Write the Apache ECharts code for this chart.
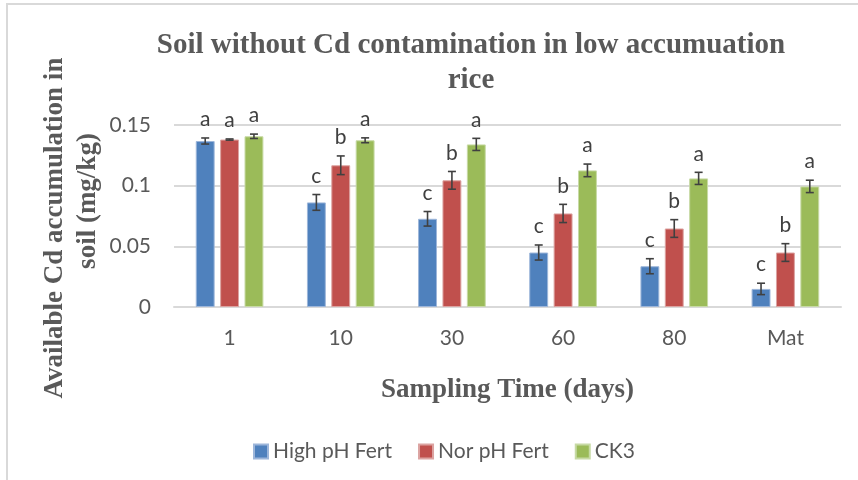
<!DOCTYPE html>
<html>
<head>
<meta charset="utf-8">
<script src="https://cdn.jsdelivr.net/npm/echarts@6/dist/echarts.min.js"></script>
<style>html,body{margin:0;padding:0;background:#fff;}#c{width:858px;height:480px;}</style>
</head>
<body>
<div id="c"></div>
<script>
var categories = ['1', '10', '30', '60', '80', 'Mat'];
var seriesNames = ['High pH Fert', 'Nor pH Fert', 'CK3'];
var highPH = [0.1368, 0.0862, 0.0727, 0.0449, 0.0336, 0.0149];
var norPH  = [0.1380, 0.1168, 0.1044, 0.0771, 0.0647, 0.0449];
var ck3    = [0.1407, 0.1374, 0.1340, 0.1126, 0.1060, 0.0994];
var highPHErr = [0.0025, 0.0065, 0.0060, 0.0062, 0.0062, 0.0047];
var norPHErr  = [0.0005, 0.0077, 0.0073, 0.0075, 0.0073, 0.0073];
var ck3Err    = [0.0018, 0.0020, 0.0050, 0.0052, 0.0050, 0.0051];
var highPHLetters = ['a', 'c', 'c', 'c', 'c', 'c'];
var norPHLetters  = ['a', 'b', 'b', 'b', 'b', 'b'];
var ck3Letters    = ['a', 'a', 'a', 'a', 'a', 'a'];
var yTicks = [0, 0.05, 0.1, 0.15];

var colors = ['#4F81BD', '#C0504D', '#9BBB59'];
var borders = ['#9DB6DA', '#DCA3A1', '#C7DAA5'];
var values = [highPH, norPH, ck3];
var errs = [highPHErr, norPHErr, ck3Err];
var letters = [highPHLetters, norPHLetters, ck3Letters];

var BAR_W = 0.17, BAR_GAP = 0.29;
var tickFont = 'Lato';
var txtColor = '#595959';

function errRender(si) {
  return function (params, api) {
    var ci = api.value(0), v = api.value(1), e = api.value(2);
    var center = api.coord([ci, 0]);
    var band = api.size([1, 0])[0];
    var bw = band * BAR_W, gap = bw * BAR_GAP;
    var total = 3 * bw + 2 * gap;
    var x = center[0] - total / 2 + si * (bw + gap) + bw / 2;
    var top = api.coord([ci, v + e])[1];
    var bot = api.coord([ci, v - e])[1];
    var cw = 4;
    var st = { stroke: '#404040', lineWidth: 1.6 };
    return {
      type: 'group',
      children: [
        { type: 'line', shape: { x1: x, y1: top, x2: x, y2: bot }, style: st },
        { type: 'line', shape: { x1: x - cw, y1: top, x2: x + cw, y2: top }, style: st },
        { type: 'line', shape: { x1: x - cw, y1: bot, x2: x + cw, y2: bot }, style: st },
        { type: 'text', x: x, y: top - 8, style: { text: letters[si][params.dataIndex], fill: '#404040', font: '21px Lato', textAlign: 'center', textVerticalAlign: 'bottom' } }
      ]
    };
  };
}

var series = [];
for (var i = 0; i < 3; i++) {
  series.push({
    name: seriesNames[i], type: 'bar', data: values[i],
    barWidth: (BAR_W * 100) + '%', barGap: (BAR_GAP * 100) + '%',
    itemStyle: { color: colors[i], borderColor: borders[i], borderWidth: 1 },
    silent: true, animation: false
  });
}
for (var j = 0; j < 3; j++) {
  (function (si) {
    var d = categories.map(function (c, k) { return [k, values[si][k], errs[si][k]]; });
    series.push({
      type: 'custom', renderItem: errRender(si), data: d,
      encode: { x: 0, y: 1 }, silent: true, animation: false, z: 5
    });
  })(j);
}

var chart = echarts.init(document.getElementById('c'));
chart.setOption({
  animation: false,
  backgroundColor: '#fff',
  title: {
    text: 'Soil without Cd contamination in low accumuation\nrice',
    left: 466, top: 23, textAlign: 'center',
    textStyle: { fontFamily: 'Liberation Serif', fontWeight: 'bold', fontSize: 29, color: txtColor, lineHeight: 35 }
  },
  legend: {
    data: seriesNames, left: 248, top: 436, itemWidth: 14, itemHeight: 14, itemGap: 26,
    icon: 'rect',
    textStyle: { fontFamily: tickFont, fontSize: 21, color: txtColor }
  },
  grid: { left: 174, right: 17, top: 125, bottom: 173, containLabel: false },
  xAxis: {
    type: 'category', data: categories,
    axisLine: { lineStyle: { color: '#D9D9D9', width: 2 } },
    axisTick: { show: false },
    axisLabel: { fontFamily: tickFont, fontSize: 21, color: txtColor, margin: 21 },
    name: 'Sampling Time (days)', nameLocation: 'middle', nameGap: 70,
    nameTextStyle: { fontFamily: 'Liberation Serif', fontWeight: 'bold', fontSize: 27, color: txtColor }
  },
  yAxis: {
    type: 'value', min: 0, max: 0.15, interval: 0.05,
    axisLine: { show: false }, axisTick: { show: false },
    splitLine: { lineStyle: { color: '#D9D9D9', width: 2 } },
    axisLabel: {
      fontFamily: tickFont, fontSize: 21, color: txtColor, margin: 23,
      formatter: function (v) { var t = yTicks.filter(function (y) { return Math.abs(y - v) < 1e-9; }); return t.length ? String(t[0]) : ''; }
    }
  },
  graphic: [
    { type: 'rect', shape: { x: 7, y: 4, width: 880, height: 500 }, style: { fill: 'none', stroke: '#D9D9D9', lineWidth: 2 }, z: -1, silent: true },
    { type: 'text', x: 55, y: 228, rotation: Math.PI / 2, style: { text: 'Available Cd accumulation in', font: 'bold 27px "Liberation Serif"', fill: txtColor, textAlign: 'center', textVerticalAlign: 'middle' } },
    { type: 'text', x: 88, y: 201, rotation: Math.PI / 2, style: { text: 'soil (mg/kg)', font: 'bold 27px "Liberation Serif"', fill: txtColor, textAlign: 'center', textVerticalAlign: 'middle' } }
  ],
  series: series
});
</script>
</body>
</html>
